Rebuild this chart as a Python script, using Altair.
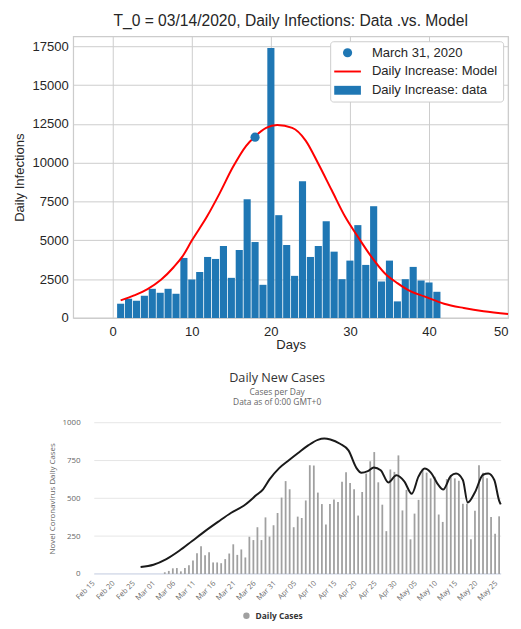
import altair as alt
import pandas as pd

# ---------------- Top panel data ----------------
TOP_TITLE = "T_0 = 03/14/2020, Daily Infections: Data .vs. Model"
DATA_DAYS = list(range(1, 42))
DATA_VALUES = [919, 1240, 1111, 1432, 1880, 1624, 1880, 1560, 3868, 2479,
               2970, 3932, 3804, 4637, 2586, 4381, 7650, 4894, 2137, 17400,
               6625, 4701, 2714, 8804, 3932, 4637, 6240, 4274, 2500, 3697,
               5984, 3419, 7202, 2351, 3697, 1069, 2500, 3291, 2415, 2287, 1688]
MODEL_DAYS = [1, 2.7, 4.4, 6.1, 7.7, 8.8, 10, 11.9, 13.5, 15.2, 16.9, 18, 19.4,
              20.8, 22.7, 24.4, 26, 27.7, 29.4, 31, 32.7, 34.4, 36, 37.7, 39.4,
              41.9, 44.4, 46.9, 50]
MODEL_VALUES = [1133, 1453, 1859, 2458, 3270, 3950, 4990, 6520, 8014, 9724, 11112,
                11700, 12245, 12430, 12250, 11433, 9937, 8227, 6518, 5236, 3953,
                2885, 2244, 1710, 1389, 919, 641, 427, 250]
POINT_DAY = [18]
POINT_VALUE = [11650]
LEGEND_LABELS = ["March 31, 2020", "Daily Increase: Model", "Daily Increase: data"]
X_TICKS_TOP = [0, 10, 20, 30, 40, 50]
Y_TICKS_TOP = [0, 2500, 5000, 7500, 10000, 12500, 15000, 17500]

# ---------------- Bottom panel data ----------------
BOTTOM_TITLE = "Daily New Cases"
BOTTOM_SUBTITLE = ["Cases per Day", "Data as of 0:00 GMT+0"]
CASE_START = "2020-03-03"
CASE_VALUES = [11, 20, 37, 39, 17, 39, 57, 89, 137, 183,
               124, 144, 76, 76, 71, 98, 135, 196, 126, 162,
               109, 246, 224, 309, 224, 374, 247, 322, 403, 505,
               614, 560, 309, 379, 370, 486, 719, 717, 538, 462,
               327, 462, 492, 475, 610, 673, 601, 560, 386, 542,
               664, 745, 806, 606, 458, 283, 691, 675, 784, 420,
               556, 229, 399, 490, 697, 670, 632, 643, 393, 344,
               627, 654, 632, 616, 464, 464, 229, 418, 719, 669,
               632, 377, 266, 381]
AVG_ORIGIN = "2020-02-15"
AVG_OFFSETS = [11, 14.2, 17.4, 20.6, 23.8, 27.0, 30.2, 33.4, 36.6, 39.8,
               41.4, 43.0, 45.4, 47.8, 50.1, 52.6, 55.0, 56.6, 58.1, 60.5,
               62.6, 64.6, 65.8, 67.4, 68.9, 70.6, 72.5, 74.5, 76.5, 78.3,
               80.0, 81.5, 83.0, 85.0, 86.1, 88.0, 89.3, 91.0, 92.2, 94.0,
               96.0, 97.3, 98.8, 100.0, 100.4]
AVG_VALUES = [46, 61, 98, 153, 218, 283, 344, 403, 451, 523,
              560, 625, 700, 752, 800, 850, 887, 895, 889, 861,
              817, 700, 669, 680, 704, 686, 605, 652, 610, 530,
              645, 697, 672, 585, 558, 648, 664, 621, 472, 540,
              656, 664, 621, 485, 460]
Y_TICKS_BOTTOM = [0, 250, 500, 750, 1000]
X_TICK_DATES = pd.date_range("2020-02-15", "2020-05-25", freq="5D")
GRID_FROM = "2020-02-14T12:00:00"
GRID_TO = "2020-05-25T12:00:00"

# ---------------- Styles ----------------
BLUE = "#1f77b4"
RED = "#ff0000"
TXT = "#262626"
GRID = "#cccccc"
FONT = "Liberation Sans"
BFONT = "Open Sans"
BTXT = "#666666"
LINE_PATH = "M-2.91,-0.21L2.91,-0.21L2.91,0.21L-2.91,0.21Z"
RECT_PATH = "M-2.91,-0.97L2.91,-0.97L2.91,0.97L-2.91,0.97Z"

# ---------------- Top chart ----------------
bars_df = pd.DataFrame({"day": DATA_DAYS, "value": DATA_VALUES})
model_df = pd.DataFrame({"day": MODEL_DAYS, "value": MODEL_VALUES})
point_df = pd.DataFrame({"day": POINT_DAY, "value": POINT_VALUE,
                         "series": [LEGEND_LABELS[0]]})

xs = alt.Scale(domain=[-5, 50], nice=False, zero=False)
ys = alt.Scale(domain=[0, 18150], nice=False)

x_axis_top = alt.Axis(values=X_TICKS_TOP, grid=True, gridColor=GRID, gridWidth=1,
                      domain=False, ticks=False, labelFlush=True,
                      labelFont=FONT, labelFontSize=13.2, labelColor=TXT, labelPadding=8,
                      title="Days",
                      titleFont=FONT, titleFontSize=13.2, titleFontWeight="normal",
                      titleColor=TXT, titlePadding=1)
y_axis_top = alt.Axis(values=Y_TICKS_TOP, format="d", grid=True, gridColor=GRID, gridWidth=1,
                      domain=False, ticks=False, labelFlush=False,
                      labelFont=FONT, labelFontSize=13.2, labelColor=TXT, labelPadding=5,
                      title="Daily Infections",
                      titleFont=FONT, titleFontSize=13.2, titleFontWeight="normal",
                      titleColor=TXT, titlePadding=6)

leg = alt.Legend(title=None, orient="top-right", offset=5, padding=5,
                 fillColor="white", strokeColor=GRID, cornerRadius=3,
                 labelFont=FONT, labelFontSize=13.2, labelColor=TXT, labelLimit=220,
                 symbolOffset=6, labelOffset=18, rowPadding=5, symbolSize=86,
                 symbolStrokeWidth=0)

top_bars = alt.Chart(bars_df).transform_calculate(
    x0="datum.day - 0.45", x1="datum.day + 0.45", base="0"
).mark_bar(color=BLUE).encode(
    x=alt.X("x0:Q", scale=xs, axis=x_axis_top),
    x2="x1:Q",
    y=alt.Y("value:Q", scale=ys, axis=y_axis_top),
    y2="base:Q",
)
top_line = alt.Chart(model_df).mark_line(color=RED, strokeWidth=2, interpolate="monotone").encode(
    x=alt.X("day:Q", scale=xs, axis=x_axis_top),
    y=alt.Y("value:Q", scale=ys, axis=y_axis_top),
)
top_point = alt.Chart(point_df).mark_point(filled=True, size=86, opacity=1).encode(
    x=alt.X("day:Q", scale=xs, axis=x_axis_top),
    y=alt.Y("value:Q", scale=ys, axis=y_axis_top),
    color=alt.Color("series:N", scale=alt.Scale(domain=LEGEND_LABELS, range=[BLUE, RED, BLUE]),
                    legend=leg),
    shape=alt.Shape("series:N", scale=alt.Scale(domain=LEGEND_LABELS,
                                                range=["circle", LINE_PATH, RECT_PATH]),
                    legend=leg),
)

top = alt.layer(top_bars, top_line, top_point).properties(
    width=440, height=285,
    title=alt.TitleParams(TOP_TITLE, font=FONT, fontSize=15.8, fontWeight="normal",
                          color=TXT, anchor="middle", offset=7),
    view=alt.ViewBackground(stroke=GRID, strokeWidth=1.25),
)

# ---------------- Bottom chart ----------------
case_dates = pd.date_range(CASE_START, periods=len(CASE_VALUES), freq="D")
cases_df = pd.DataFrame({"date": case_dates.strftime("%Y-%m-%dT%H:%M:%S"),
                         "cases": CASE_VALUES, "series": "Daily Cases"})
avg_dates = pd.Timestamp(AVG_ORIGIN) + pd.to_timedelta(AVG_OFFSETS, unit="D")
avg_df = pd.DataFrame({"date": avg_dates.strftime("%Y-%m-%dT%H:%M:%S"), "avg": AVG_VALUES})
grid_df = pd.DataFrame({"tick": Y_TICKS_BOTTOM, "x0": GRID_FROM, "x1": GRID_TO})
base_df = pd.DataFrame({"tick": [0], "x0": [GRID_FROM], "x1": [GRID_TO]})

bx = alt.Scale(domain=[alt.DateTime(year=2020, month=2, date=10, hours=12),
                       alt.DateTime(year=2020, month=5, date=25, hours=12)])
by = alt.Scale(domain=[0, 1000], nice=False)

x_axis_bottom = alt.Axis(
    values=[alt.DateTime(year=d.year, month=d.month, date=d.day) for d in X_TICK_DATES],
    format="%b %d", labelAngle=315, labelAlign="right", labelBaseline="middle",
    labelFont=BFONT, labelFontSize=7.5, labelColor=BTXT, labelPadding=8, labelOffset=-3,
    labelFlush=False, labelOverlap=False, labelSeparation=0, labelBound=False,
    domain=False, ticks=False, grid=False, title=None)
y_axis_bottom = alt.Axis(
    values=Y_TICKS_BOTTOM, format="d", labelFont=BFONT, labelFontSize=8, labelColor=BTXT,
    labelPadding=3, offset=-10, domain=False, ticks=False, grid=False,
    title="Novel Coronavirus Daily Cases",
    titleFont=BFONT, titleFontSize=8, titleFontWeight="normal", titleColor=BTXT,
    titlePadding=6)

bleg = alt.Legend(title=None, orient="none", legendX=171, legendY=191,
                  symbolType="circle", symbolSize=42, symbolStrokeWidth=0,
                  labelFont=BFONT, labelFontSize=8.5, labelFontWeight="bold",
                  labelColor="#333333", padding=0, labelOffset=5)

grid_rules = alt.Chart(grid_df).mark_rule(color="#e6e6e6", strokeWidth=1).encode(
    x=alt.X("x0:T", scale=bx, axis=x_axis_bottom),
    x2="x1:T",
    y=alt.Y("tick:Q", scale=by, axis=y_axis_bottom),
)
base_rule = alt.Chart(base_df).mark_rule(color="#ccd6eb", strokeWidth=1).encode(
    x=alt.X("x0:T", scale=bx, axis=x_axis_bottom),
    x2="x1:T",
    y=alt.Y("tick:Q", scale=by, axis=y_axis_bottom),
)
case_bars = alt.Chart(cases_df).mark_bar(size=1.8).encode(
    x=alt.X("date:T", scale=bx, axis=x_axis_bottom),
    y=alt.Y("cases:Q", scale=by, axis=y_axis_bottom),
    color=alt.Color("series:N", scale=alt.Scale(domain=["Daily Cases"], range=["#a0a0a0"]),
                    legend=bleg),
)
avg_line = alt.Chart(avg_df).mark_line(color="#1a1a1a", strokeWidth=2,
                                        interpolate="monotone").encode(
    x=alt.X("date:T", scale=bx, axis=x_axis_bottom),
    y=alt.Y("avg:Q", scale=by, axis=y_axis_bottom),
)

bottom = alt.layer(grid_rules, base_rule, case_bars, avg_line).properties(
    width=438, height=153,
    title=alt.TitleParams(BOTTOM_TITLE, subtitle=BOTTOM_SUBTITLE, font=BFONT, fontSize=12.8,
                          fontWeight="normal", color="#333333", subtitleFont=BFONT,
                          subtitleFontSize=8.5, subtitleColor=BTXT, subtitlePadding=3,
                          subtitleLineHeight=11, offset=12, anchor="middle", frame="bounds"),
)

chart = alt.vconcat(top, bottom, spacing=19).resolve_scale(
    color="independent", shape="independent", x="independent", y="independent"
).resolve_legend(color="independent", shape="independent").properties(
    padding={"left": 3, "top": 0, "right": 0, "bottom": 0}
).configure_view(strokeWidth=0)

chart.save("out.html", embed_options={"renderer": "svg", "actions": False})
